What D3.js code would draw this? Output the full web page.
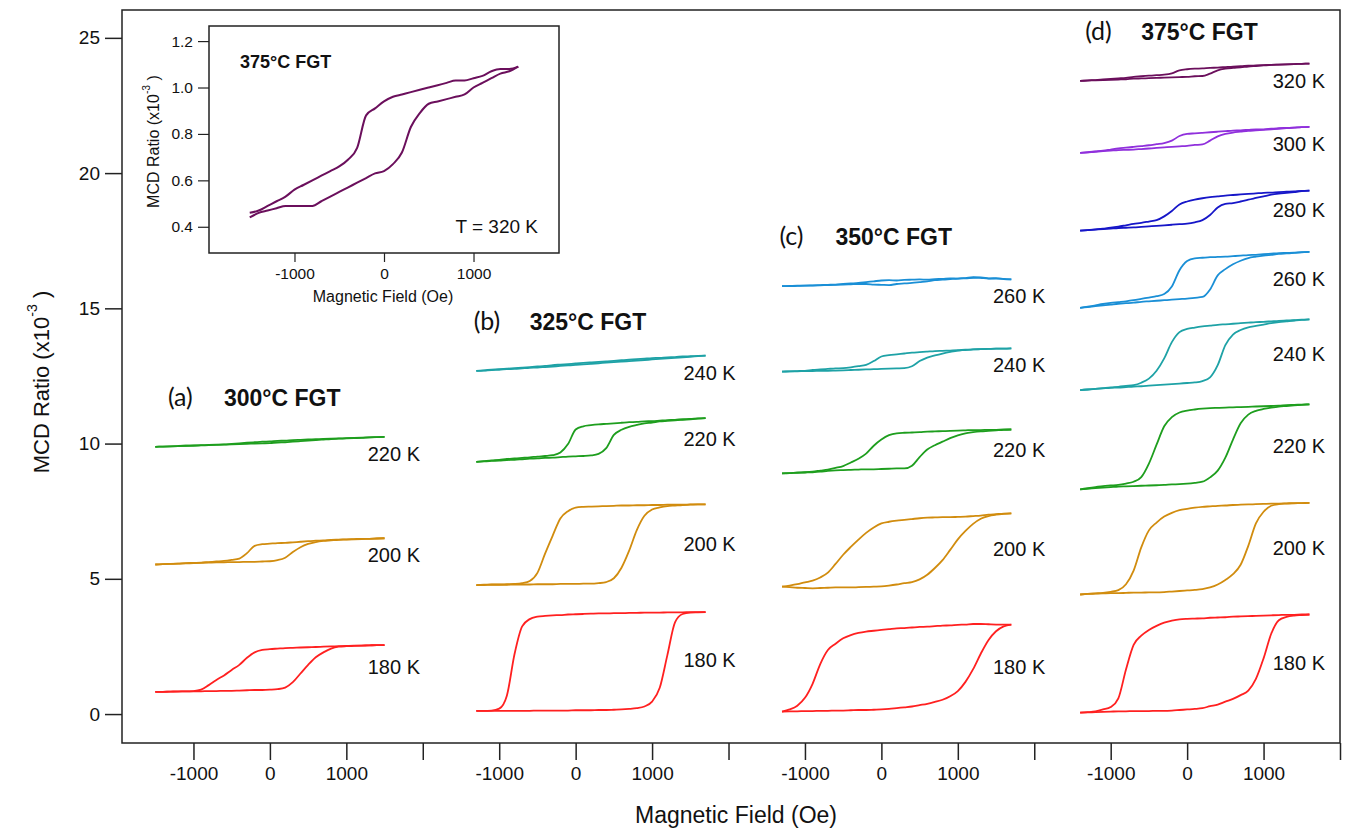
<!DOCTYPE html>
<html>
<head>
<meta charset="utf-8">
<script src="https://cdn.jsdelivr.net/npm/d3@7"></script>
<style>
  body { margin: 0; background: #fff; }
  svg { display: block; font-family: "Liberation Sans", Arial, sans-serif; }
</style>
</head>
<body>
<svg id="chart" width="1347" height="830"></svg>
<script>
// field sweep points (Oe), read against each panel's own axis
const fieldA = [-1500, -1400, -1300, -1200, -1100, -1000, -900, -800, -700, -600, -500, -400, -300, -200, -100, 0, 100, 200, 300, 400, 500, 600, 700, 800, 900, 1000, 1100, 1200, 1300, 1400, 1500];
const fieldB = [-1300, -1200, -1100, -1000, -900, -800, -700, -600, -500, -400, -300, -200, -100, 0, 100, 200, 300, 400, 500, 600, 700, 800, 900, 1000, 1100, 1200, 1300, 1400, 1500, 1600, 1700];
const fieldC = [-1300, -1200, -1100, -1000, -900, -800, -700, -600, -500, -400, -300, -200, -100, 0, 100, 200, 300, 400, 500, 600, 700, 800, 900, 1000, 1100, 1200, 1300, 1400, 1500, 1600, 1700];
const fieldD = [-1400, -1300, -1200, -1100, -1000, -900, -800, -700, -600, -500, -400, -300, -200, -100, 0, 100, 200, 300, 400, 500, 600, 700, 800, 900, 1000, 1100, 1200, 1300, 1400, 1500, 1600];
const fieldInset = fieldA;

// MCD ratio (x10^-3), "Down" = sweep from + to - field, "Up" = sweep from - to +
// (a) 300°C FGT
const a220Down = [9.88, 9.89, 9.90, 9.91, 9.92, 9.93, 9.94, 9.95, 9.96, 9.97, 9.99, 10.01, 10.03, 10.05, 10.07, 10.08, 10.10, 10.11, 10.13, 10.14, 10.15, 10.16, 10.17, 10.18, 10.19, 10.20, 10.21, 10.22, 10.23, 10.24, 10.25];
const a220Up = [9.88, 9.89, 9.90, 9.91, 9.92, 9.92, 9.93, 9.94, 9.95, 9.96, 9.97, 9.98, 9.99, 10.00, 10.01, 10.02, 10.04, 10.05, 10.07, 10.09, 10.11, 10.13, 10.15, 10.17, 10.18, 10.19, 10.20, 10.21, 10.23, 10.24, 10.25];
const a200Down = [5.53, 5.54, 5.55, 5.56, 5.58, 5.59, 5.60, 5.62, 5.64, 5.66, 5.70, 5.75, 5.95, 6.22, 6.28, 6.30, 6.32, 6.33, 6.35, 6.37, 6.39, 6.41, 6.42, 6.44, 6.45, 6.46, 6.47, 6.48, 6.48, 6.49, 6.50];
const a200Up = [5.53, 5.54, 5.55, 5.56, 5.57, 5.58, 5.59, 5.60, 5.61, 5.61, 5.62, 5.62, 5.63, 5.63, 5.64, 5.65, 5.69, 5.78, 5.99, 6.17, 6.29, 6.36, 6.40, 6.42, 6.44, 6.45, 6.46, 6.47, 6.48, 6.49, 6.50];
const a180Down = [0.82, 0.82, 0.83, 0.84, 0.84, 0.85, 0.90, 1.07, 1.26, 1.43, 1.63, 1.82, 2.08, 2.28, 2.37, 2.40, 2.42, 2.44, 2.45, 2.46, 2.47, 2.48, 2.49, 2.50, 2.51, 2.52, 2.53, 2.53, 2.54, 2.55, 2.55];
const a180Up = [0.82, 0.82, 0.83, 0.83, 0.84, 0.84, 0.84, 0.85, 0.85, 0.86, 0.86, 0.87, 0.88, 0.89, 0.89, 0.90, 0.92, 0.98, 1.18, 1.50, 1.82, 2.10, 2.28, 2.42, 2.49, 2.51, 2.52, 2.53, 2.54, 2.55, 2.55];

// (b) 325°C FGT
const b240Down = [12.69, 12.71, 12.73, 12.75, 12.77, 12.79, 12.81, 12.83, 12.85, 12.87, 12.90, 12.92, 12.94, 12.96, 12.98, 13.00, 13.02, 13.04, 13.06, 13.08, 13.10, 13.12, 13.14, 13.16, 13.17, 13.19, 13.20, 13.22, 13.23, 13.24, 13.25];
const b240Up = [12.69, 12.70, 12.72, 12.73, 12.75, 12.76, 12.78, 12.80, 12.81, 12.83, 12.85, 12.87, 12.89, 12.91, 12.93, 12.95, 12.97, 12.99, 13.01, 13.03, 13.05, 13.07, 13.09, 13.11, 13.13, 13.15, 13.17, 13.19, 13.21, 13.23, 13.25];
const b220Down = [9.32, 9.35, 9.38, 9.40, 9.43, 9.45, 9.47, 9.49, 9.52, 9.54, 9.57, 9.67, 9.98, 10.52, 10.64, 10.68, 10.71, 10.73, 10.75, 10.77, 10.79, 10.80, 10.82, 10.83, 10.85, 10.87, 10.88, 10.90, 10.91, 10.93, 10.94];
const b220Up = [9.32, 9.34, 9.36, 9.37, 9.39, 9.40, 9.42, 9.44, 9.45, 9.47, 9.48, 9.50, 9.52, 9.53, 9.54, 9.56, 9.62, 9.83, 10.32, 10.51, 10.62, 10.69, 10.75, 10.78, 10.82, 10.84, 10.86, 10.88, 10.90, 10.92, 10.94];
const b200Down = [4.77, 4.78, 4.79, 4.79, 4.80, 4.81, 4.84, 4.92, 5.22, 5.93, 6.60, 7.23, 7.50, 7.63, 7.66, 7.67, 7.68, 7.69, 7.70, 7.71, 7.71, 7.72, 7.72, 7.73, 7.73, 7.74, 7.74, 7.74, 7.75, 7.75, 7.75];
const b200Up = [4.77, 4.77, 4.78, 4.78, 4.78, 4.79, 4.79, 4.79, 4.80, 4.80, 4.80, 4.81, 4.81, 4.81, 4.82, 4.82, 4.84, 4.88, 5.02, 5.41, 6.04, 6.80, 7.33, 7.56, 7.64, 7.69, 7.71, 7.73, 7.74, 7.75, 7.75];
const b180Down = [0.12, 0.12, 0.13, 0.20, 0.68, 2.21, 3.24, 3.51, 3.60, 3.63, 3.65, 3.66, 3.68, 3.69, 3.70, 3.71, 3.72, 3.72, 3.73, 3.73, 3.74, 3.74, 3.75, 3.75, 3.75, 3.76, 3.76, 3.76, 3.77, 3.77, 3.77];
const b180Up = [0.12, 0.12, 0.12, 0.12, 0.12, 0.12, 0.12, 0.12, 0.13, 0.13, 0.13, 0.13, 0.13, 0.14, 0.14, 0.14, 0.15, 0.15, 0.16, 0.17, 0.19, 0.22, 0.28, 0.46, 0.97, 2.18, 3.39, 3.70, 3.75, 3.76, 3.77];

// (c) 350°C FGT
const c260Down = [15.82, 15.83, 15.84, 15.84, 15.85, 15.86, 15.87, 15.88, 15.90, 15.92, 15.94, 15.97, 16.00, 16.03, 16.04, 16.03, 16.05, 16.06, 16.07, 16.06, 16.08, 16.09, 16.11, 16.10, 16.12, 16.15, 16.13, 16.10, 16.12, 16.08, 16.07];
const c260Up = [15.82, 15.82, 15.83, 15.84, 15.84, 15.85, 15.86, 15.87, 15.88, 15.89, 15.90, 15.90, 15.88, 15.87, 15.86, 15.90, 15.92, 15.94, 15.97, 16.00, 16.04, 16.06, 16.08, 16.10, 16.11, 16.13, 16.14, 16.11, 16.10, 16.09, 16.07];
const c240Down = [12.66, 12.67, 12.68, 12.69, 12.72, 12.74, 12.76, 12.78, 12.79, 12.82, 12.86, 12.91, 13.05, 13.22, 13.27, 13.30, 13.33, 13.36, 13.38, 13.40, 13.42, 13.43, 13.44, 13.45, 13.47, 13.48, 13.49, 13.50, 13.51, 13.51, 13.52];
const c240Up = [12.66, 12.67, 12.67, 12.68, 12.68, 12.69, 12.69, 12.70, 12.71, 12.72, 12.73, 12.74, 12.75, 12.76, 12.77, 12.78, 12.79, 12.86, 13.05, 13.18, 13.26, 13.33, 13.39, 13.44, 13.46, 13.48, 13.49, 13.50, 13.51, 13.51, 13.52];
const c220Down = [8.90, 8.91, 8.93, 8.94, 8.96, 9.00, 9.04, 9.10, 9.17, 9.30, 9.44, 9.63, 9.92, 10.15, 10.31, 10.38, 10.40, 10.41, 10.42, 10.44, 10.45, 10.46, 10.47, 10.48, 10.49, 10.50, 10.50, 10.51, 10.51, 10.52, 10.52];
const c220Up = [8.90, 8.91, 8.92, 8.93, 8.94, 8.96, 8.99, 9.01, 9.02, 9.03, 9.04, 9.05, 9.05, 9.06, 9.07, 9.08, 9.08, 9.18, 9.50, 9.78, 9.94, 10.07, 10.20, 10.30, 10.38, 10.42, 10.45, 10.47, 10.49, 10.51, 10.52];
const c200Down = [4.71, 4.75, 4.80, 4.87, 4.93, 5.05, 5.23, 5.55, 5.89, 6.18, 6.45, 6.70, 6.90, 7.05, 7.11, 7.15, 7.18, 7.21, 7.24, 7.26, 7.27, 7.28, 7.28, 7.29, 7.30, 7.32, 7.34, 7.37, 7.39, 7.41, 7.42];
const c200Up = [4.71, 4.69, 4.67, 4.66, 4.65, 4.66, 4.67, 4.68, 4.68, 4.68, 4.69, 4.70, 4.71, 4.72, 4.75, 4.79, 4.84, 4.88, 4.98, 5.15, 5.40, 5.69, 6.07, 6.46, 6.77, 7.03, 7.22, 7.32, 7.37, 7.40, 7.42];
const c180Down = [0.09, 0.17, 0.31, 0.60, 1.12, 1.85, 2.37, 2.60, 2.80, 2.92, 3.00, 3.05, 3.08, 3.11, 3.14, 3.17, 3.18, 3.20, 3.22, 3.23, 3.25, 3.27, 3.28, 3.30, 3.31, 3.33, 3.33, 3.32, 3.31, 3.31, 3.31];
const c180Up = [0.09, 0.10, 0.10, 0.11, 0.11, 0.12, 0.12, 0.13, 0.13, 0.14, 0.15, 0.15, 0.16, 0.17, 0.19, 0.22, 0.25, 0.28, 0.33, 0.38, 0.45, 0.53, 0.66, 0.85, 1.19, 1.66, 2.23, 2.73, 3.06, 3.24, 3.31];

// (d) 375°C FGT
const d320Down = [23.41, 23.43, 23.44, 23.46, 23.48, 23.50, 23.52, 23.56, 23.58, 23.60, 23.62, 23.64, 23.69, 23.80, 23.84, 23.86, 23.87, 23.89, 23.90, 23.92, 23.94, 23.95, 23.97, 23.98, 23.99, 24.00, 24.01, 24.02, 24.03, 24.04, 24.05];
const d320Up = [23.41, 23.42, 23.43, 23.44, 23.45, 23.46, 23.47, 23.49, 23.50, 23.51, 23.52, 23.53, 23.54, 23.55, 23.56, 23.58, 23.59, 23.68, 23.80, 23.86, 23.89, 23.91, 23.94, 23.96, 23.98, 24.00, 24.01, 24.02, 24.03, 24.04, 24.05];
const d300Down = [20.75, 20.77, 20.80, 20.83, 20.87, 20.91, 20.94, 20.97, 21.00, 21.03, 21.07, 21.11, 21.20, 21.37, 21.45, 21.47, 21.49, 21.51, 21.53, 21.55, 21.57, 21.58, 21.60, 21.62, 21.62, 21.64, 21.66, 21.67, 21.68, 21.70, 21.71];
const d300Up = [20.75, 20.77, 20.79, 20.81, 20.83, 20.85, 20.86, 20.87, 20.89, 20.91, 20.93, 20.95, 20.97, 20.99, 21.01, 21.04, 21.06, 21.20, 21.36, 21.45, 21.50, 21.53, 21.56, 21.58, 21.60, 21.62, 21.64, 21.66, 21.68, 21.70, 21.71];
const d280Down = [17.87, 17.89, 17.92, 17.95, 17.98, 18.02, 18.07, 18.12, 18.16, 18.21, 18.26, 18.40, 18.60, 18.84, 18.95, 19.02, 19.07, 19.11, 19.14, 19.17, 19.19, 19.21, 19.23, 19.25, 19.27, 19.28, 19.30, 19.31, 19.32, 19.34, 19.35];
const d280Up = [17.87, 17.89, 17.91, 17.93, 17.95, 17.97, 17.98, 17.99, 18.01, 18.03, 18.05, 18.07, 18.09, 18.11, 18.13, 18.18, 18.26, 18.45, 18.73, 18.86, 18.89, 18.95, 19.02, 19.08, 19.14, 19.20, 19.24, 19.27, 19.30, 19.33, 19.35];
const d260Down = [15.02, 15.06, 15.11, 15.16, 15.20, 15.23, 15.26, 15.30, 15.35, 15.40, 15.45, 15.53, 15.81, 16.41, 16.75, 16.85, 16.87, 16.89, 16.90, 16.91, 16.93, 16.95, 16.97, 16.98, 17.00, 17.02, 17.04, 17.05, 17.06, 17.08, 17.09];
const d260Up = [15.02, 15.05, 15.08, 15.11, 15.14, 15.17, 15.19, 15.21, 15.24, 15.26, 15.28, 15.30, 15.32, 15.34, 15.36, 15.39, 15.42, 15.70, 16.22, 16.45, 16.63, 16.76, 16.86, 16.91, 16.95, 16.98, 17.01, 17.03, 17.05, 17.07, 17.09];
const d240Down = [11.98, 12.00, 12.02, 12.05, 12.08, 12.10, 12.13, 12.16, 12.25, 12.40, 12.69, 13.15, 13.75, 14.12, 14.24, 14.29, 14.33, 14.36, 14.39, 14.41, 14.43, 14.45, 14.47, 14.49, 14.50, 14.52, 14.54, 14.55, 14.56, 14.58, 14.59];
const d240Up = [11.98, 12.00, 12.02, 12.04, 12.06, 12.07, 12.09, 12.11, 12.12, 12.14, 12.16, 12.18, 12.20, 12.22, 12.24, 12.26, 12.31, 12.45, 12.90, 13.64, 14.03, 14.20, 14.30, 14.35, 14.40, 14.45, 14.49, 14.52, 14.55, 14.57, 14.59];
const d220Down = [8.31, 8.35, 8.39, 8.43, 8.45, 8.47, 8.52, 8.59, 8.76, 9.26, 9.96, 10.64, 10.98, 11.15, 11.22, 11.26, 11.29, 11.31, 11.32, 11.33, 11.34, 11.35, 11.36, 11.37, 11.38, 11.39, 11.40, 11.42, 11.43, 11.44, 11.45];
const d220Up = [8.31, 8.33, 8.35, 8.37, 8.39, 8.41, 8.42, 8.43, 8.44, 8.45, 8.46, 8.47, 8.49, 8.50, 8.52, 8.55, 8.59, 8.75, 9.00, 9.48, 10.15, 10.75, 11.07, 11.21, 11.28, 11.33, 11.37, 11.39, 11.41, 11.43, 11.45];
const d200Down = [4.42, 4.44, 4.46, 4.48, 4.52, 4.58, 4.80, 5.30, 6.16, 6.79, 7.08, 7.30, 7.44, 7.54, 7.59, 7.63, 7.66, 7.68, 7.70, 7.71, 7.73, 7.74, 7.75, 7.76, 7.77, 7.78, 7.78, 7.79, 7.80, 7.80, 7.81];
const d200Up = [4.42, 4.44, 4.45, 4.46, 4.47, 4.47, 4.48, 4.49, 4.49, 4.50, 4.50, 4.51, 4.53, 4.55, 4.57, 4.59, 4.62, 4.68, 4.79, 4.96, 5.17, 5.52, 6.22, 7.05, 7.48, 7.70, 7.76, 7.78, 7.79, 7.80, 7.81];
const d180Down = [0.05, 0.07, 0.10, 0.17, 0.26, 0.58, 1.65, 2.56, 2.90, 3.11, 3.26, 3.38, 3.45, 3.50, 3.52, 3.53, 3.54, 3.56, 3.57, 3.58, 3.60, 3.61, 3.62, 3.63, 3.64, 3.65, 3.66, 3.67, 3.67, 3.68, 3.68];
const d180Up = [0.05, 0.06, 0.07, 0.08, 0.09, 0.10, 0.10, 0.11, 0.11, 0.11, 0.12, 0.12, 0.13, 0.15, 0.17, 0.19, 0.22, 0.29, 0.35, 0.46, 0.56, 0.70, 0.87, 1.30, 2.06, 2.97, 3.47, 3.59, 3.64, 3.66, 3.68];

// inset: 375°C FGT at 320 K
const insetDown = [0.46, 0.47, 0.49, 0.51, 0.53, 0.56, 0.58, 0.60, 0.62, 0.64, 0.66, 0.69, 0.74, 0.88, 0.91, 0.94, 0.96, 0.97, 0.98, 0.99, 1.00, 1.01, 1.02, 1.03, 1.03, 1.04, 1.05, 1.07, 1.08, 1.08, 1.09];
const insetUp = [0.44, 0.46, 0.47, 0.48, 0.49, 0.49, 0.49, 0.49, 0.51, 0.53, 0.55, 0.57, 0.59, 0.61, 0.63, 0.64, 0.67, 0.72, 0.83, 0.89, 0.93, 0.94, 0.95, 0.96, 0.97, 1.00, 1.02, 1.04, 1.06, 1.07, 1.09];

const yTicks = [0, 5, 10, 15, 20, 25];
const fieldTicks = [-1000, 0, 1000];
const insetYTicks = [0.4, 0.6, 0.8, 1.0, 1.2];
const insetXTicks = [-1000, 0, 1000];

const tempColors = {
  180: "#ff2020", 200: "#d18c0e", 220: "#1e9e1e", 240: "#1ea2a6",
  260: "#1a8fd6", 280: "#1616c8", 300: "#9030dc", 320: "#6b0f5c"
};

// each panel is shifted along one long field axis
const panelShift = 4000;
const panels = [
  { tag: "(a)", title: "300°C FGT", field: fieldA, labelAt: 1280,
    loops: [[220, a220Down, a220Up], [200, a200Down, a200Up], [180, a180Down, a180Up]] },
  { tag: "(b)", title: "325°C FGT", field: fieldB, labelAt: 1410,
    loops: [[240, b240Down, b240Up], [220, b220Down, b220Up], [200, b200Down, b200Up], [180, b180Down, b180Up]] },
  { tag: "(c)", title: "350°C FGT", field: fieldC, labelAt: 1460,
    loops: [[260, c260Down, c260Up], [240, c240Down, c240Up], [220, c220Down, c220Up], [200, c200Down, c200Up], [180, c180Down, c180Up]] },
  { tag: "(d)", title: "375°C FGT", field: fieldD, labelAt: 1120,
    loops: [[320, d320Down, d320Up], [300, d300Down, d300Up], [280, d280Down, d280Up], [260, d260Down, d260Up],
            [240, d240Down, d240Up], [220, d220Down, d220Up], [200, d200Down, d200Up], [180, d180Down, d180Up]] }
];

const svg = d3.select("#chart");
const plot = { left: 122, right: 1340, top: 10, bottom: 743 };

const x = d3.scaleLinear().domain([-1935, 3 * panelShift + 2000]).range([plot.left, plot.right]);
const y = d3.scaleLinear().domain([-1.07, 26.03]).range([plot.bottom, plot.top]);

// curves
panels.forEach((p, i) => {
  const off = i * panelShift;
  const line = d3.line()
    .x(d => x(d[0] + off))
    .y(d => y(d[1]))
    .curve(d3.curveMonotoneX);

  const g = svg.append("g");
  p.loops.forEach(([temp, down, up]) => {
    [down, up].forEach(branch => {
      g.append("path")
        .datum(p.field.map((h, k) => [h, branch[k]]))
        .attr("d", line)
        .attr("fill", "none")
        .attr("stroke", tempColors[temp])
        .attr("stroke-width", 1.8)
        .attr("stroke-linejoin", "round");
    });

    const n = down.length - 1;
    const yEnd = y(down[n]);
    const yMid = y((down[0] + down[n]) / 2);
    g.append("text")
      .attr("x", x(p.labelAt + off))
      .attr("y", Math.max(yEnd + 24, yMid + 6))
      .attr("font-size", 20)
      .attr("fill", "#111")
      .text(temp + " K");
  });

  // panel heading sits above the first loop
  const top = y(p.loops[0][1][0]) - 41;
  g.append("text")
    .attr("x", x(off) - 102)
    .attr("y", top)
    .attr("font-family", "Lato, 'Open Sans', sans-serif")
    .attr("font-size", 25)
    .attr("fill", "#111")
    .text(p.tag);
  g.append("text")
    .attr("x", x(off) - 46)
    .attr("y", top)
    .attr("font-size", 23)
    .attr("font-weight", "bold")
    .attr("fill", "#111")
    .text(p.title);
});

// frame
svg.append("rect")
  .attr("x", plot.left).attr("y", plot.top)
  .attr("width", plot.right - plot.left).attr("height", plot.bottom - plot.top)
  .attr("fill", "none").attr("stroke", "#222").attr("stroke-width", 1.5);

// y axis
const yAxis = svg.append("g")
  .attr("transform", `translate(${plot.left},0)`)
  .call(d3.axisLeft(y).tickValues(yTicks).tickSize(17).tickPadding(5));
yAxis.select(".domain").remove();

// x axis: -1000/0/1000 under every panel plus a tick at each panel boundary
const xTickVals = [];
const xTickLabel = new Map();
panels.forEach((p, i) => {
  fieldTicks.forEach(t => { xTickVals.push(t + i * panelShift); xTickLabel.set(t + i * panelShift, String(t)); });
  xTickVals.push(i * panelShift + 2000);
});
const xAxis = svg.append("g")
  .attr("transform", `translate(0,${plot.bottom})`)
  .call(d3.axisBottom(x).tickValues(xTickVals).tickSize(17).tickPadding(7)
    .tickFormat(d => xTickLabel.get(d) || ""));
xAxis.select(".domain").remove();

[yAxis, xAxis].forEach(a => {
  a.selectAll(".tick line").attr("stroke", "#222").attr("stroke-width", 1.5);
  a.selectAll(".tick text").attr("font-size", 19).attr("fill", "#111")
    .attr("font-family", "'Liberation Sans', Arial, sans-serif");
});

// axis titles
svg.append("text")
  .attr("x", 736).attr("y", 823)
  .attr("text-anchor", "middle").attr("font-size", 23).attr("fill", "#111")
  .text("Magnetic Field (Oe)");

function ratioTitle(sel, size) {
  sel.attr("font-size", size).attr("fill", "#111").attr("text-anchor", "middle");
  sel.append("tspan").text("MCD Ratio (x10");
  sel.append("tspan").attr("dy", -0.55 * size).attr("font-size", size * 0.65).text("-3");
  sel.append("tspan").attr("dy", 0.55 * size).text(" )");
}
svg.append("text")
  .attr("transform", "translate(49,382) rotate(-90)")
  .call(ratioTitle, 22);

// inset
const box = { left: 209, right: 559, top: 26, bottom: 253 };
const ix = d3.scaleLinear().domain([-1955, 1955]).range([box.left, box.right]);
const iy = d3.scaleLinear().domain([0.287, 1.265]).range([box.bottom, box.top]);

const inset = svg.append("g");
inset.append("rect")
  .attr("x", box.left).attr("y", box.top)
  .attr("width", box.right - box.left).attr("height", box.bottom - box.top)
  .attr("fill", "#fff").attr("stroke", "#222").attr("stroke-width", 1.5);

const insetLine = d3.line()
  .x(d => ix(d[0])).y(d => iy(d[1]))
  .curve(d3.curveMonotoneX);
[insetDown, insetUp].forEach(branch => {
  inset.append("path")
    .datum(fieldInset.map((h, k) => [h, branch[k]]))
    .attr("d", insetLine)
    .attr("fill", "none")
    .attr("stroke", tempColors[320])
    .attr("stroke-width", 2)
    .attr("stroke-linejoin", "round");
});

const iyAxis = inset.append("g")
  .attr("transform", `translate(${box.left},0)`)
  .call(d3.axisLeft(iy).tickValues(insetYTicks).tickSize(11).tickPadding(5).tickFormat(d3.format(".1f")));
const ixAxis = inset.append("g")
  .attr("transform", `translate(0,${box.bottom})`)
  .call(d3.axisBottom(ix).tickValues(insetXTicks).tickSize(9).tickPadding(6).tickFormat(d => String(d)));
[iyAxis, ixAxis].forEach(a => {
  a.select(".domain").remove();
  a.selectAll(".tick line").attr("stroke", "#222").attr("stroke-width", 1.2);
  a.selectAll(".tick text").attr("font-size", 15.5).attr("fill", "#111")
    .attr("font-family", "'Liberation Sans', Arial, sans-serif");
});

inset.append("text")
  .attr("x", (box.left + box.right) / 2 - 1).attr("y", box.bottom + 49)
  .attr("text-anchor", "middle").attr("font-size", 16).attr("fill", "#111")
  .text("Magnetic Field (Oe)");
inset.append("text")
  .attr("transform", `translate(${box.left - 50},${(box.top + box.bottom) / 2 + 2}) rotate(-90)`)
  .call(ratioTitle, 16);
inset.append("text")
  .attr("x", box.left + 31).attr("y", box.top + 42)
  .attr("font-size", 18).attr("font-weight", "bold").attr("fill", "#111")
  .text("375°C FGT");
inset.append("text")
  .attr("x", box.right - 21).attr("y", box.bottom - 20)
  .attr("text-anchor", "end").attr("font-size", 19).attr("fill", "#111")
  .text("T = 320 K");
</script>
</body>
</html>
